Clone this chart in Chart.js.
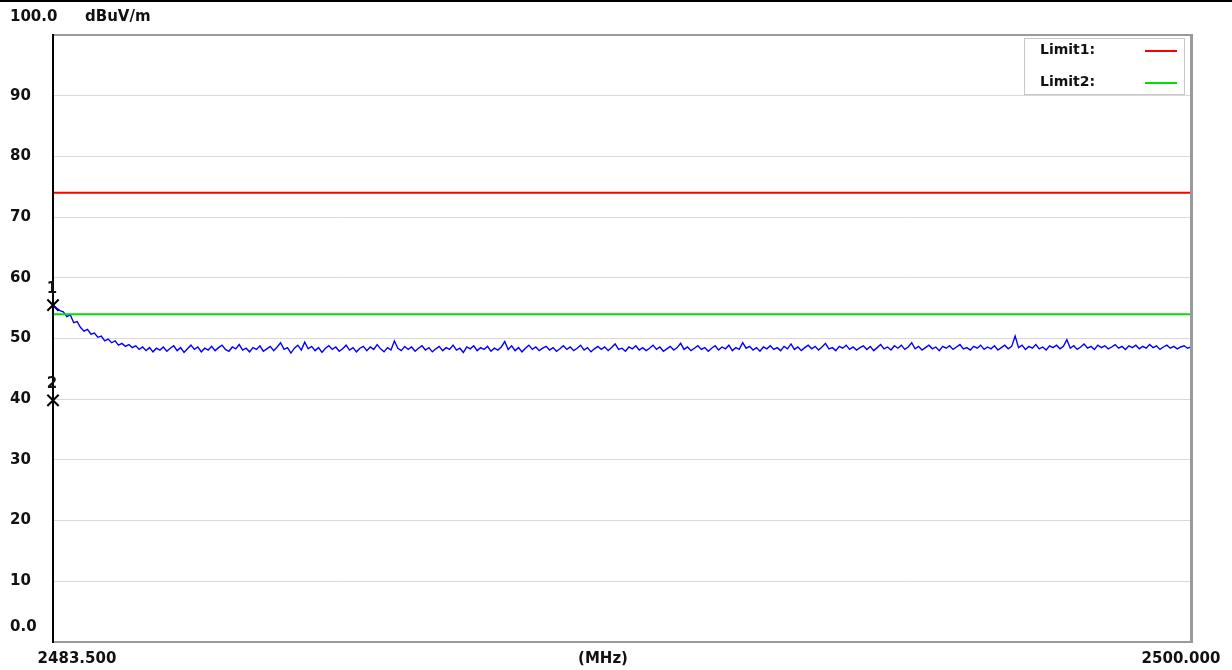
<!DOCTYPE html>
<html>
<head>
<meta charset="utf-8">
<script src="https://cdn.jsdelivr.net/npm/chart.js@4.4.1/dist/chart.umd.min.js"></script>
<style>
  html, body { margin: 0; padding: 0; background: #fff; }
  #wrap { width: 1232px; height: 670px; }
</style>
</head>
<body>
<div id="wrap"><canvas id="scan"></canvas></div>
<script>
// sweep settings (MHz)
const freqStart = 2483.5;
const freqStop = 2500.0;
const freqStep = 0.05;

// y axis ticks (dBuV/m)
const yTicks = [0, 10, 20, 30, 40, 50, 60, 70, 80, 90, 100];
const yTickLabels = ["0.0", "10", "20", "30", "40", "50", "60", "70", "80", "90", "100.0"];
const xTickLabels = ["2483.500", "(MHz)", "2500.000"];

// limit lines
const limitNames = ["Limit1:", "Limit2:"];
const limitLevels = [74, 54];

// markers
const markerNames = ["1", "2"];
const markerFreqs = [2483.5, 2483.5];
const markerLevels = [55.5, 39.8];

// measured trace, one value per sweep step
const traceLevels = [
  55.3, 55.0, 54.6, 54.4, 53.6, 53.9, 52.6, 52.8, 51.8, 51.2,
  51.5, 50.7, 50.9, 50.2, 50.4, 49.6, 49.9, 49.3, 49.6, 48.9,
  49.2, 48.7, 49.0, 48.5, 48.8, 48.2, 48.6, 48.0, 48.5, 47.8, 48.4,
  48.1, 48.6, 47.9, 48.4, 48.8, 48.0, 48.5, 47.7, 48.3, 48.9, 48.2, 48.6, 47.8, 48.4, 48.1, 48.7, 48.0, 48.5, 48.9, 48.2,
  47.9, 48.6, 48.3, 49.0, 48.1, 48.4, 47.8, 48.5, 48.2, 48.8, 47.9, 48.3, 48.7, 48.0, 48.6, 49.3, 48.2, 48.5, 47.6, 48.4,
  48.9, 48.1, 49.4, 48.3, 48.7, 48.0, 48.5, 47.7, 48.4, 48.8, 48.2, 48.6, 47.9, 48.3, 48.9, 48.1, 48.5, 47.8, 48.4, 48.7,
  48.0, 48.6, 48.2, 49.0, 48.3, 47.8, 48.5, 48.1, 49.6, 48.4, 48.0, 48.7, 48.2, 48.6, 47.9, 48.4, 48.8, 48.1, 48.5, 47.8,
  48.3, 48.7, 48.0, 48.5, 48.2, 48.9, 48.1, 48.4, 47.7, 48.6, 48.3, 48.8, 48.0, 48.5, 48.2, 48.7, 47.9, 48.4, 48.1, 48.6,
  49.5, 48.2, 48.8, 48.0, 48.5, 47.8, 48.4, 48.9, 48.2, 48.6, 48.0, 48.4, 48.7, 48.1, 48.5, 47.9, 48.3, 48.8, 48.2, 48.6,
  48.0, 48.4, 48.9, 48.1, 48.5, 47.8, 48.3, 48.7, 48.2, 48.6, 48.0, 48.5, 49.1, 48.2, 48.4, 47.9, 48.6, 48.3, 48.8, 48.1,
  48.5, 48.0, 48.4, 48.9, 48.2, 48.6, 47.9, 48.3, 48.7, 48.1, 48.5, 49.2, 48.2, 48.6, 48.0, 48.4, 48.8, 48.2, 48.5, 47.9,
  48.4, 48.8, 48.1, 48.6, 48.3, 48.9, 48.0, 48.5, 48.2, 49.3, 48.4, 48.7, 48.1, 48.5, 47.9, 48.6, 48.3, 48.8, 48.2, 48.5,
  48.0, 48.7, 48.3, 49.1, 48.2, 48.6, 48.0, 48.5, 48.9, 48.3, 48.7, 48.1, 48.6, 49.2, 48.3, 48.5, 48.0, 48.7, 48.4, 48.9,
  48.2, 48.6, 48.1, 48.5, 48.8, 48.2, 48.7, 48.0, 48.5, 49.0, 48.3, 48.6, 48.1, 48.8, 48.4, 48.9, 48.2, 48.6, 49.3, 48.3,
  48.7, 48.1, 48.5, 48.9, 48.3, 48.6, 48.0, 48.7, 48.4, 48.8, 48.2, 48.6, 49.0, 48.3, 48.5, 48.1, 48.7, 48.4, 48.9, 48.2,
  48.6, 48.3, 48.8, 48.1, 48.5, 48.9, 48.3, 48.7, 50.4, 48.5, 48.9, 48.2, 48.7, 48.4, 49.0, 48.3, 48.6, 48.1, 48.8, 48.5,
  48.9, 48.3, 48.7, 49.8, 48.4, 48.8, 48.2, 48.6, 49.1, 48.4, 48.7, 48.2, 48.9, 48.5, 48.8, 48.3, 48.6, 49.0, 48.4, 48.7,
  48.2, 48.8, 48.5, 48.9, 48.3, 48.7, 48.4, 49.0, 48.5, 48.8, 48.2, 48.6, 48.9, 48.4, 48.7, 48.3, 48.6, 48.8, 48.4, 48.6
];

const FONT = 'bold 15px "DejaVu Sans"';
const traceData = traceLevels.map((v, i) => ({ x: freqStart + i * freqStep, y: v }));

const overlay = {
  id: "overlay",
  beforeDraw(chart) {
    const ctx = chart.ctx;
    ctx.save();
    ctx.fillStyle = "#fff";
    ctx.fillRect(0, 0, chart.width, chart.height);
    ctx.fillStyle = "#000";
    ctx.fillRect(0, 0, chart.width, 2);
    ctx.restore();
  },
  afterDraw(chart) {
    const ctx = chart.ctx;
    const a = chart.chartArea;
    const xs = chart.scales.x;
    const ys = chart.scales.y;
    ctx.save();

    // frame
    ctx.fillStyle = "#9a9a9a";
    ctx.fillRect(a.left, a.top - 1, a.right - a.left, 2);
    ctx.fillRect(a.left, a.bottom - 1, a.right - a.left + 2, 2);
    ctx.fillRect(a.right - 1, a.top - 1, 3, a.bottom - a.top + 2);
    ctx.fillStyle = "#000";
    ctx.fillRect(a.left - 1, a.top - 1, 2, a.bottom - a.top + 2);

    // y labels
    ctx.font = FONT;
    ctx.fillStyle = "#111";
    ctx.textAlign = "left";
    ctx.textBaseline = "middle";
    yTicks.forEach((v, i) => {
      let y = ys.getPixelForValue(v);
      if (v === 100) y -= 18;
      if (v === 0) y -= 15;
      ctx.fillText(yTickLabels[i], 10, y);
    });
    ctx.fillText("dBuV/m", 85, ys.getPixelForValue(100) - 18);

    // x labels
    const yx = a.bottom + 17;
    ctx.textAlign = "center";
    ctx.fillText(xTickLabels[0], xs.getPixelForValue(freqStart) + 24, yx);
    ctx.fillText(xTickLabels[1], (a.left + a.right) / 2 - 19, yx);
    ctx.fillText(xTickLabels[2], xs.getPixelForValue(freqStop) - 10, yx);

    // marker numbers
    ctx.font = 'bold 15px "DejaVu Sans"';
    markerNames.forEach((n, i) => {
      ctx.fillText(n, xs.getPixelForValue(markerFreqs[i]) - 1, ys.getPixelForValue(markerLevels[i]) - 16);
    });

    // legend box
    const lx = 1024, ly = 38, lw = 160, lh = 56;
    ctx.fillStyle = "#fff";
    ctx.fillRect(lx, ly, lw, lh);
    ctx.strokeStyle = "#c8c8c8";
    ctx.lineWidth = 1;
    ctx.strokeRect(lx + 0.5, ly + 0.5, lw, lh);
    ctx.font = 'bold 14px "DejaVu Sans"';
    ctx.textAlign = "left";
    ctx.fillStyle = "#111";
    limitNames.forEach((n, i) => {
      const ty = ly + 12 + i * 32;
      ctx.fillText(n, lx + 16, ty);
      ctx.strokeStyle = chart.data.datasets[i].borderColor;
      ctx.lineWidth = 2;
      ctx.beginPath();
      ctx.moveTo(lx + 121, ty + 1);
      ctx.lineTo(lx + 153, ty + 1);
      ctx.stroke();
    });
    ctx.restore();
  }
};

new Chart(document.getElementById("scan"), {
  type: "line",
  data: {
    datasets: [
      {
        label: limitNames[0],
        data: [{ x: freqStart, y: limitLevels[0] }, { x: freqStop, y: limitLevels[0] }],
        borderColor: "#ff0000",
        borderWidth: 2,
        pointRadius: 0,
      },
      {
        label: limitNames[1],
        data: [{ x: freqStart, y: limitLevels[1] }, { x: freqStop, y: limitLevels[1] }],
        borderColor: "#00e000",
        borderWidth: 2,
        pointRadius: 0,
      },
      {
        label: "trace",
        data: traceData,
        borderColor: "#0000ff",
        borderWidth: 1.4,
        pointRadius: 0,
        tension: 0,
      },
      {
        label: "markers",
        data: markerFreqs.map((f, i) => ({ x: f, y: markerLevels[i] })),
        showLine: false,
        pointStyle: "crossRot",
        pointRadius: 8,
        borderColor: "#000",
        borderWidth: 2,
        clip: false,
      },
    ],
  },
  options: {
    responsive: true,
    maintainAspectRatio: false,
    animation: false,
    layout: { padding: { left: 53, top: 35, right: 41, bottom: 28 } },
    plugins: { legend: { display: false }, tooltip: { enabled: false } },
    scales: {
      x: {
        type: "linear",
        min: freqStart,
        max: freqStop,
        grid: { display: false },
        border: { display: false },
        ticks: { display: false },
        afterFit: (s) => { s.height = 0; },
      },
      y: {
        min: 0,
        max: 100,
        afterBuildTicks: (s) => { s.ticks = yTicks.map((v) => ({ value: v })); },
        grid: { color: "#d9d9d9", lineWidth: 1, drawTicks: false },
        border: { display: false },
        ticks: { display: false },
        afterFit: (s) => { s.width = 0; },
      },
    },
  },
  plugins: [overlay],
});
</script>
</body>
</html>
